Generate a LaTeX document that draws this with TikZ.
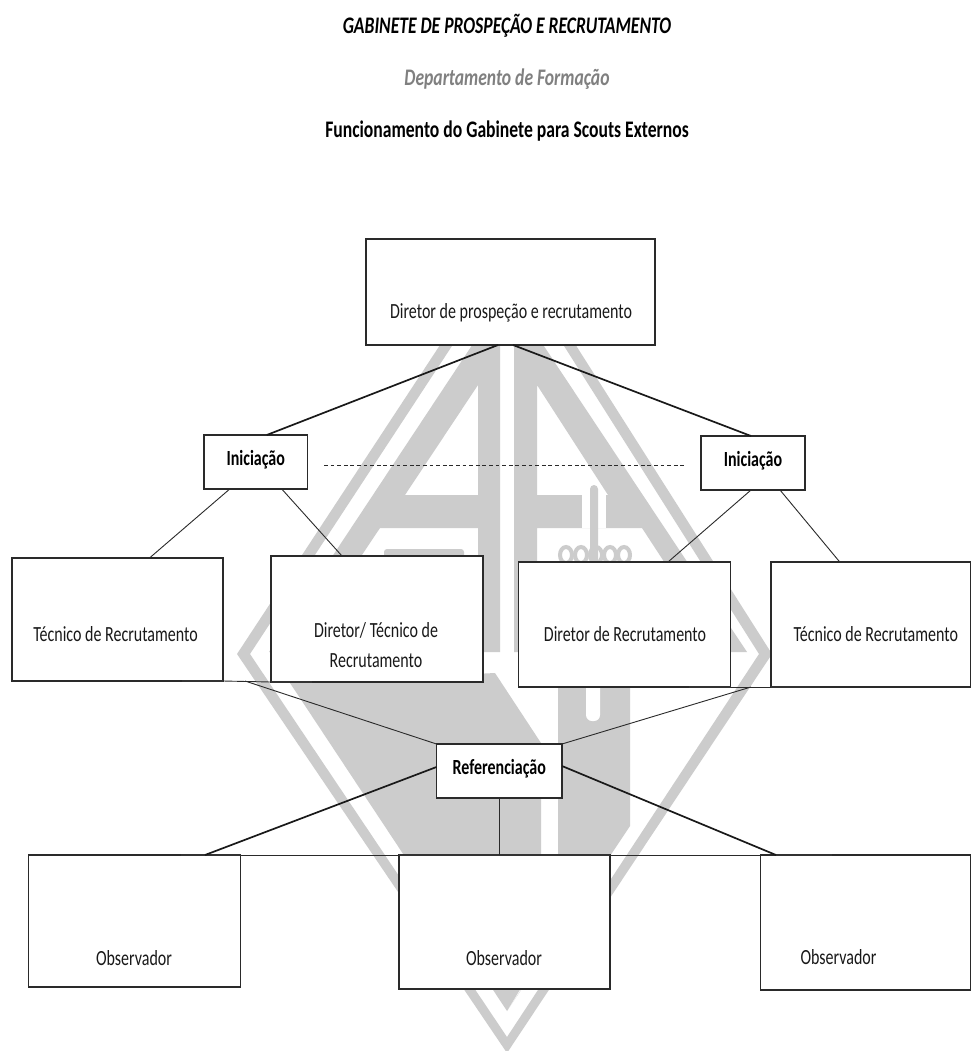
\documentclass[tikz,border=0pt]{standalone}
\usepackage{graphicx}
\usepackage{fontspec}
\setmainfont{Carlito}
\newcommand\lbl[3]{\makebox[0pt][c]{\raisebox{#2}[0pt][0pt]{\hspace*{#1}\scalebox{1}[1.35]{#3}}}}
\definecolor{wm}{HTML}{CCCCCC}
\definecolor{ink}{HTML}{2A2A2A}
\tikzset{
  bx/.style={draw=ink,fill=white,line width=1.1pt,inner sep=0pt,outer sep=0pt,text=black!90,font=\fontsize{16}{18}\selectfont},
  boldbx/.style={bx,font=\fontsize{16}{18}\selectfont\bfseries,text=black},
  head/.style={inner sep=0pt,text=black},
  thinln/.style={draw=ink,line width=0.9pt},
  thickln/.style={draw=black!90,line width=1.7pt},
  stub/.style={draw=black!80,line width=1.9pt},
}
\begin{document}
\begin{tikzpicture}[x=1pt,y=-1pt]
\useasboundingbox (0,0) rectangle (971,1051);
\fill[white] (0,0) rectangle (971,1051);
% watermark
\begin{scope}
\clip (0,0) rectangle (971,1051);
\fill[wm,even odd rule] (509,240)--(772,654)--(507,1053)--(237,654)--cycle
  (509,259)--(759,654)--(507,1037)--(250,654)--cycle;
\fill[wm,even odd rule] (500,303)--(269,652)--(297,652)--(380,528)--(478,528)--(478,652)--(500,652)--cycle
  (478,385)--(405,495)--(478,495)--cycle;
\fill[wm,even odd rule] (514,301)--(747,652)--(723,652)--(642,528)--(537,528)--(537,652)--(514,652)--cycle
  (537,385)--(608,495)--(537,495)--cycle;
\fill[white] (582,495) rectangle (606,528);
\fill[wm,rounded corners=4pt] (590,600)--(590,485)--(598,485)--(598,600)--cycle;
\foreach \cx in {566,581,596,610,624} \draw[wm,line width=4pt] (\cx,555) ellipse (6pt and 8pt);
\fill[wm,rounded corners=3pt] (384,620)--(384,549)--(464,549)--(464,620)--cycle;
\fill[wm] (290,683)--(495,673)--(541,743)--(541,955)--(507,1011)--cycle;
\fill[wm] (558,680)--(630,680)--(630,826)--(507,1011)--(558,935)--cycle;
\fill[white,rounded corners=6pt] (586,670)--(586,721)--(600,721)--(600,670)--cycle;
\end{scope}
% headings
\node[head,font=\fontsize{17.6}{18}\selectfont\bfseries\itshape] (t1) at (507,27) {\lbl{0pt}{-7pt}{GABINETE DE PROSPEÇÃO E RECRUTAMENTO}};
\node[head,text=black!50,font=\fontsize{17.6}{18}\selectfont\bfseries\itshape] (t2) at (507,79) {\lbl{0pt}{-7pt}{Departamento de Formação}};
\node[head,font=\fontsize{17.6}{18}\selectfont\bfseries] (t3) at (507,131) {\lbl{0pt}{-7pt}{Funcionamento do Gabinete para Scouts Externos}};
% boxes
\node[bx,minimum width=289pt,minimum height=106pt] (top) at (510.5,292) {\lbl{1pt}{-26pt}{Diretor de prospeção e recrutamento}};
\node[boldbx,minimum width=103.5pt,minimum height=54pt] (iniL) at (255.75,462) {\lbl{0pt}{-3pt}{Iniciação}};
\node[boldbx,minimum width=104pt,minimum height=54pt] (iniR) at (753,463) {\lbl{0pt}{-3pt}{Iniciação}};
\node[bx,minimum width=211pt,minimum height=123pt] (tecL) at (117.5,619.5) {\lbl{-4pt}{-22pt}{Técnico de Recrutamento}};
\node[bx,minimum width=212pt,minimum height=126pt] (dirT) at (377,619) {\lbl{-2pt}{-18pt}{Diretor/ Técnico de}\lbl{-2pt}{-48pt}{Recrutamento}};
\node[bx,minimum width=212pt,minimum height=125pt] (dirR) at (624.5,624.5) {\lbl{1pt}{-17pt}{Diretor de Recrutamento}};
\node[bx,minimum width=199.5pt,minimum height=125pt] (tecR) at (870.75,624.5) {\lbl{10pt}{-17pt}{Técnico de Recrutamento}};
\node[boldbx,minimum width=125.5pt,minimum height=54pt] (ref) at (499.25,771) {\lbl{0pt}{-3pt}{Referenciação}};
\node[bx,minimum width=212pt,minimum height=132pt] (obsL) at (134.5,921) {\lbl{-1pt}{-44pt}{Observador}};
\node[bx,minimum width=211pt,minimum height=134pt] (obsM) at (504.5,922) {\lbl{-1pt}{-43pt}{Observador}};
\node[bx,minimum width=210pt,minimum height=135pt] (obsR) at (865.5,922.5) {\lbl{-54pt}{-42pt}{Observador}};
% connectors
\draw[thickln] ([xshift=-12.5pt]top.south) -- ([xshift=11pt]iniL.north);
\draw[thickln] ([xshift=2.5pt]top.south) -- ([xshift=-2pt]iniR.north);
\draw[draw=ink,line width=1.5pt,dash pattern=on 3.8pt off 2.8pt] ([xshift=16.5pt,yshift=-3.5pt]iniL.east) -- ([xshift=-17pt,yshift=-2.5pt]iniR.west);
\draw[thinln] ([xshift=-26pt]iniL.south) -- ([xshift=32pt]tecL.north);
\draw[thinln] ([xshift=26pt]iniL.south) -- ([xshift=-35pt]dirT.north);
\draw[thinln] ([xshift=-2pt]iniR.south) -- ([xshift=43.5pt]dirR.north);
\draw[thinln] ([xshift=27pt]iniR.south) -- ([xshift=-31pt]tecR.north);
% lower rails
\draw[thinln] (tecL.south east) -- (dirT.south west);
\draw[thinln] (dirR.south east) -- (tecR.south west);
\draw[stub] ([xshift=-41pt]tecL.south east) -- (tecL.south east);
\draw[stub] (dirT.south west) -- ([xshift=41pt]dirT.south west);
\draw[stub] ([xshift=-42pt]dirR.south east) -- (dirR.south east);
\draw[stub] (tecR.south west) -- ([xshift=49pt]tecR.south west);
\draw[thinln] ([xshift=22pt]tecL.south east) -- (ref.north west);
\draw[thinln] ([xshift=20.5pt]dirR.south east) -- (ref.north east);
\draw[thinln] (obsL.north west) -- (obsR.north east);
\draw[stub] ([xshift=-60pt]obsL.north east) -- (obsL.north east);
\draw[stub] (obsM.north west) -- (obsM.north east);
\draw[stub] ([xshift=-89.5pt]obsR.north) -- ([xshift=-33.5pt]obsR.north);
\draw[thickln] ([yshift=4pt]ref.west) -- ([xshift=70.5pt]obsL.north);
\draw[thickln] ([yshift=5pt]ref.east) -- ([xshift=-89.5pt]obsR.north);
\draw[thinln] (ref.south) -- (ref.south |- obsM.north);
\end{tikzpicture}
\end{document}
